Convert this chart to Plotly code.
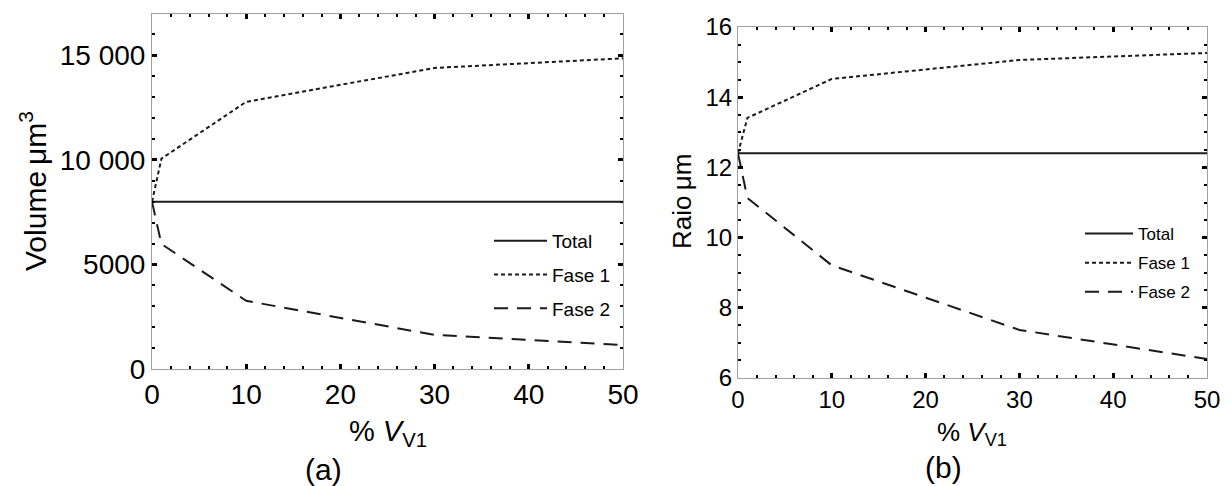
import plotly.graph_objects as go

# ---- data ----
pct_v1 = [0, 1, 10, 30, 50]

vol_total = [8000, 8000, 8000, 8000, 8000]
vol_fase1 = [8000, 10060, 12780, 14400, 14860]
vol_fase2 = [8000, 5980, 3260, 1630, 1150]

raio_total = [12.4, 12.4, 12.4, 12.4, 12.4]
raio_fase1 = [12.4, 13.41, 14.52, 15.06, 15.26]
raio_fase2 = [12.4, 11.13, 9.21, 7.37, 6.54]

series_names = ["Total", "Fase 1", "Fase 2"]
x_tickvals = [0, 10, 20, 30, 40, 50]
vol_tickvals = [0, 5000, 10000, 15000]
vol_ticktext = ["0", "5000", "10 000", "15 000"]
raio_tickvals = [6, 8, 10, 12, 14, 16]

W, H = 1231, 486
FONT = "Liberation Sans, Arial, sans-serif"
LINE_COLOR = "#1a1a1a"
dashes = ["solid", "4px,3px", "14px,9px"]

fig = go.Figure()

for name, vals, dash in zip(series_names, [vol_total, vol_fase1, vol_fase2], dashes):
    fig.add_trace(go.Scatter(
        x=pct_v1, y=vals, mode="lines", name=name,
        line=dict(color=LINE_COLOR, width=2, dash=dash),
        xaxis="x", yaxis="y", legend="legend", legendgroup="a" + name,
    ))

for name, vals, dash in zip(series_names, [raio_total, raio_fase1, raio_fase2], dashes):
    fig.add_trace(go.Scatter(
        x=pct_v1, y=vals, mode="lines", name=name,
        line=dict(color=LINE_COLOR, width=2, dash=dash),
        xaxis="x2", yaxis="y2", legend="legend2", legendgroup="b" + name,
    ))


def px_x(p):
    return p / W


def px_y(p):
    return 1 - p / H


axis_common = dict(
    showline=True, linecolor="#a0a0a0", linewidth=1, mirror="allticks",
    ticks="inside", ticklen=5, tickwidth=2.5, tickcolor="#000",
    showgrid=False, zeroline=False, automargin=False,
)
minor_common = dict(ticks="inside", ticklen=3, tickwidth=2, tickcolor="#000", showgrid=False)

fig.update_layout(
    template="none",
    width=W, height=H,
    margin=dict(l=0, r=0, t=0, b=0, pad=0),
    paper_bgcolor="white", plot_bgcolor="white",
    font=dict(family=FONT, color="#000"),
    xaxis=dict(
        **axis_common, domain=[px_x(152), px_x(623)], range=[0, 50],
        tickvals=x_tickvals, tickfont=dict(size=28), anchor="y",
        minor=dict(dtick=2, **minor_common),
    ),
    yaxis=dict(
        **axis_common, domain=[px_y(369), px_y(14)], range=[0, 16980],
        tickvals=vol_tickvals, ticktext=vol_ticktext, tickfont=dict(size=28), anchor="x",
        minor=dict(dtick=1000, **minor_common),
    ),
    xaxis2=dict(
        **axis_common, domain=[px_x(738), px_x(1207)], range=[0, 50],
        tickvals=x_tickvals, tickfont=dict(size=24), anchor="y2",
        minor=dict(dtick=2, **minor_common),
    ),
    yaxis2=dict(
        **axis_common, domain=[px_y(378), px_y(27)], range=[6, 16],
        tickvals=raio_tickvals, tickfont=dict(size=24), anchor="x2",
        minor=dict(dtick=0.5, **minor_common),
    ),
    legend=dict(
        x=px_x(489), y=px_y(222), xanchor="left", yanchor="top",
        font=dict(size=19), bgcolor="rgba(0,0,0,0)", itemwidth=53,
        tracegroupgap=6, traceorder="grouped",
    ),
    legend2=dict(
        x=px_x(1080), y=px_y(216), xanchor="left", yanchor="top",
        font=dict(size=17), bgcolor="rgba(0,0,0,0)", itemwidth=48,
        tracegroupgap=4, traceorder="grouped",
    ),
    annotations=[
        dict(text="Volume\u2009μm<sup>3</sup>", x=px_x(33), y=px_y(191), xref="paper", yref="paper",
             textangle=-90, showarrow=False, font=dict(size=30), xanchor="center", yanchor="middle"),
        dict(text="Raio\u2009μm", x=px_x(682), y=px_y(202), xref="paper", yref="paper",
             textangle=-90, showarrow=False, font=dict(size=26), xanchor="center", yanchor="middle"),
        dict(text="% <i>V</i><sub>V1</sub>", x=px_x(388), y=px_y(433), xref="paper", yref="paper",
             showarrow=False, font=dict(size=29), xanchor="center", yanchor="middle"),
        dict(text="% <i>V</i><sub>V1</sub>", x=px_x(972), y=px_y(433), xref="paper", yref="paper",
             showarrow=False, font=dict(size=26), xanchor="center", yanchor="middle"),
        dict(text="(a)", x=px_x(323), y=px_y(469), xref="paper", yref="paper",
             showarrow=False, font=dict(size=30), xanchor="center", yanchor="middle"),
        dict(text="(b)", x=px_x(943), y=px_y(467), xref="paper", yref="paper",
             showarrow=False, font=dict(size=30), xanchor="center", yanchor="middle"),
    ],
)

fig.write_html(
    "out.html",
    config={"displayModeBar": False},
    post_script="document.body.style.margin='0';document.body.style.overflow='hidden';",
)
